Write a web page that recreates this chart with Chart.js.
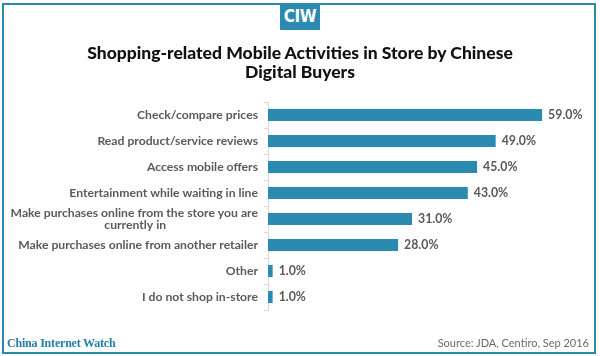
<!DOCTYPE html>
<html>
<head>
<meta charset="utf-8">
<script src="https://cdn.jsdelivr.net/npm/chart.js@4/dist/chart.umd.min.js"></script>
<style>
  html, body { margin: 0; padding: 0; background: #fff; }
  #wrap { position: relative; width: 600px; height: 356px; overflow: hidden; background: #fff; }
  #frame { position: absolute; left: 2px; top: 3px; width: 590px; height: 347px; border: 2px solid #2b8ab0; box-sizing: content-box; }
  #logo { position: absolute; left: 280px; top: 3px; width: 40px; height: 27px; background: #2b8ab0; color: #fff;
          font-family: "DejaVu Sans Condensed", "DejaVu Sans", sans-serif; font-weight: bold; font-size: 17px;
          line-height: 27px; text-align: center; letter-spacing: -0.5px; }
  #title { position: absolute; left: 0; top: 43px; width: 600px; text-align: center; color: #111;
           font-family: Lato, "Open Sans", sans-serif; font-weight: 900; font-size: 17.5px; line-height: 19px; }
  #brand { position: absolute; left: 7px; top: 336px; color: #1f7fa8; font-family: "Liberation Serif", serif;
           font-weight: bold; font-size: 12px; letter-spacing: -0.2px; }
  #source { position: absolute; right: 11px; top: 336px; color: #6b6b6b; font-family: Lato, "Open Sans", sans-serif;
            font-size: 11px; }
  canvas { position: absolute; left: 0; top: 0; }
</style>
</head>
<body>
<div id="wrap">
  <canvas id="c" width="600" height="356"></canvas>
  <div id="frame"></div>
  <div id="logo">CIW</div>
  <div id="title">Shopping-related Mobile Activities in Store by Chinese<br>Digital Buyers</div>
  <div id="brand">China Internet Watch</div>
  <div id="source">Source: JDA, Centiro, Sep 2016</div>
</div>
<script>
const categories = [
  "Check/compare prices",
  "Read product/service reviews",
  "Access mobile offers",
  "Entertainment while waiting in line",
  ["Make purchases online from the store you are", "currently in"],
  "Make purchases online from another retailer",
  "Other",
  "I do not shop in-store"
];
const values = [59, 49, 45, 43, 31, 28, 1, 1];
const valueLabels = ["59.0%", "49.0%", "45.0%", "43.0%", "31.0%", "28.0%", "1.0%", "1.0%"];

const barColor = "#2b8ab0";
const labelFont = { family: "Lato, 'Open Sans', sans-serif", size: 12.2, weight: "bold", lineHeight: 1.05 };

// centre the shorter lines of a multi-line label under the longest line (as in the original)
const measureCtx = document.createElement("canvas").getContext("2d");
measureCtx.font = "bold 12.2px Lato, 'Open Sans', sans-serif";
function centredLines(label) {
  if (!Array.isArray(label)) return label;
  const widths = label.map(l => measureCtx.measureText(l).width);
  const maxW = Math.max(...widths);
  const spaceW = measureCtx.measureText(" ").width;
  return label.map((l, i) => l + " ".repeat(Math.round((maxW - widths[i]) / 2 / spaceW)));
}

const valueLabelPlugin = {
  id: "valueLabels",
  afterDatasetsDraw(chart) {
    const ctx = chart.ctx;
    const meta = chart.getDatasetMeta(0);
    ctx.save();
    ctx.fillStyle = "#5a5a5a";
    ctx.font = "bold 12.3px Lato, 'Open Sans', sans-serif";
    ctx.textAlign = "left";
    ctx.textBaseline = "middle";
    meta.data.forEach((bar, i) => {
      ctx.fillText(valueLabels[i], bar.x + 6, bar.y);
    });
    ctx.restore();
  }
};

new Chart(document.getElementById("c"), {
  type: "bar",
  data: {
    labels: categories,
    datasets: [{
      data: values,
      backgroundColor: barColor,
      borderWidth: 0,
      barPercentage: 0.46,
      categoryPercentage: 1
    }]
  },
  options: {
    indexAxis: "y",
    responsive: false,
    animation: false,
    events: [],
    layout: { padding: { left: 0, right: 30, top: 102, bottom: 46 } },
    plugins: { legend: { display: false }, title: { display: false }, tooltip: { enabled: false } },
    scales: {
      x: { display: false, min: 0, max: 65 },
      y: {
        afterFit(scale) { scale.width = 268; },
        grid: { drawOnChartArea: false, drawTicks: true, tickLength: 4, color: "#d9d9d9", offset: true },
        border: { display: true, color: "#d9d9d9", width: 1 },
        ticks: {
          color: "#5a5a5a", font: labelFont, padding: 6, autoSkip: false,
          callback(value) { return centredLines(this.getLabelForValue(value)); }
        }
      }
    }
  },
  plugins: [valueLabelPlugin]
});
</script>
</body>
</html>
